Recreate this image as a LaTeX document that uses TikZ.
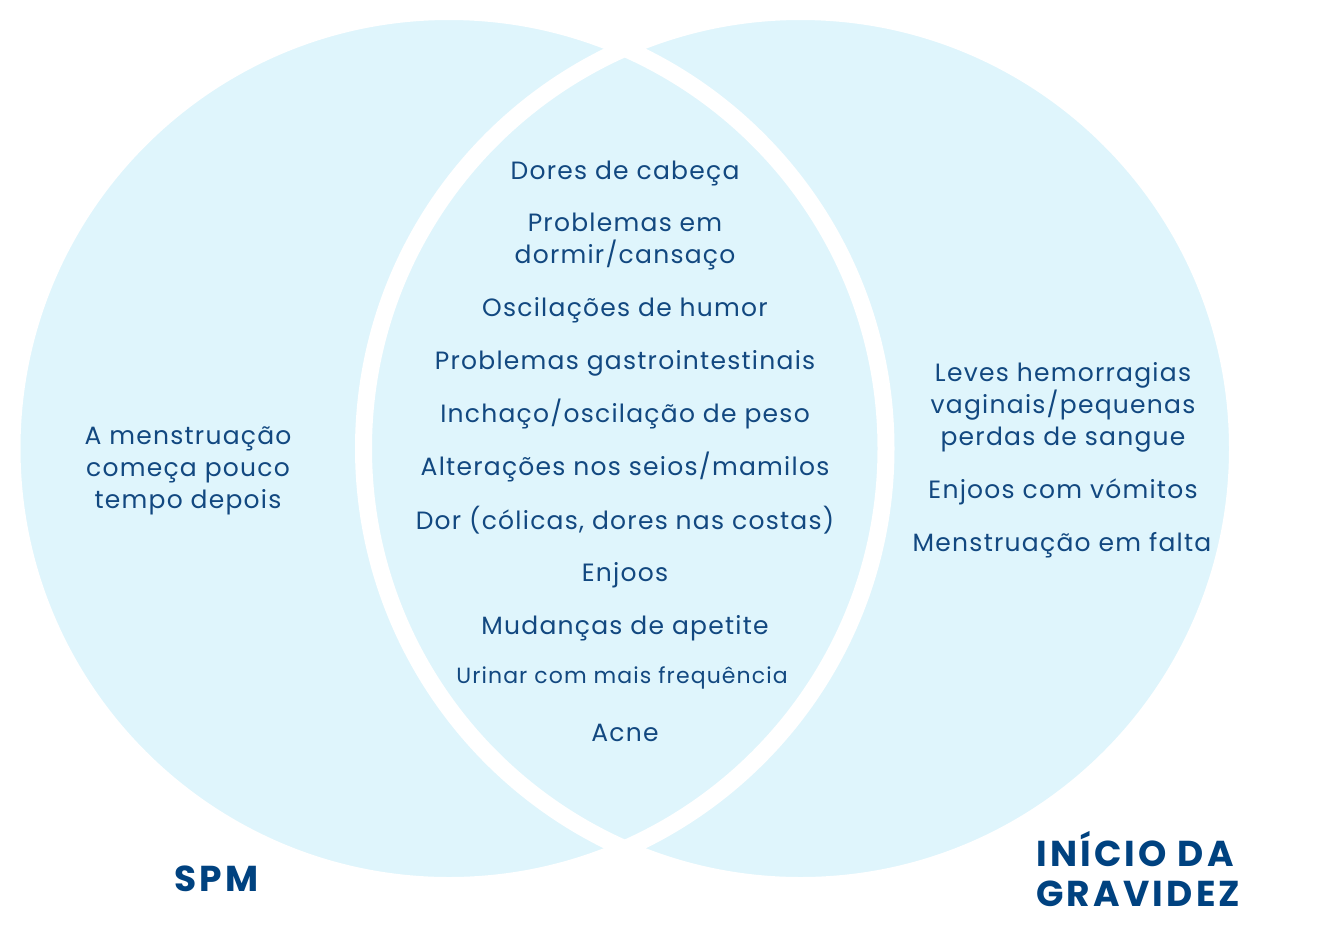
\documentclass[tikz,border=0pt]{standalone}
\usepackage{fontspec}
\setmainfont{Poppins}[LetterSpace=5]
\newfontfamily\ttlfont{Poppins}[LetterSpace=9]
\definecolor{fillblue}{RGB}{223,245,252}
\definecolor{txtblue}{RGB}{18,72,128}
\definecolor{ttlblue}{RGB}{0,66,128}
\begin{document}
\begin{tikzpicture}[x=1pt,y=-1pt,
  circ/.style={fill=fillblue},
  ring/.style={draw=white,line width=17pt},
  item/.style={text=txtblue,font=\fontsize{25}{32}\selectfont,align=center,inner sep=0pt,anchor=center},
  small/.style={text=txtblue,font=\fontsize{22}{26}\selectfont,align=center,inner sep=0pt,anchor=center},
  ttl/.style={text=ttlblue,font=\ttlfont\bfseries\fontsize{36}{40}\selectfont,align=left,inner sep=0pt}]
\useasboundingbox (0,0) rectangle (1338,935);
\fill[white] (0,0) rectangle (1338,935);
\path[circ] (449,448.5) circle[radius=437];
\path[circ] (800.5,448.5) circle[radius=437];
\draw[ring] (449,448.5) circle[radius=437];
\draw[ring] (800.5,448.5) circle[radius=437];
% center
\node[item] (c1) at (625,173) {Dores de cabeça};
\node[item] (c2) at (625,241) {Problemas em\\dormir/cansaço};
\node[item] (c3) at (625,310) {Oscilações de humor};
\node[item] (c4) at (625,363) {Problemas gastrointestinais};
\node[item] (c5) at (625,414) {Inchaço/oscilação de peso};
\node[item] (c6) at (625,467) {Alterações nos seios/mamilos};
\node[item] (c7) at (625,520) {Dor (cólicas, dores nas costas)};
\node[item] (c8) at (625,575) {Enjoos};
\node[item] (c9) at (625,628) {Mudanças de apetite};
\node[small] (c10) at (622,678) {Urinar com mais frequência};
\node[item] (c11) at (625,733) {Acne};
% left
\node[item] (l1) at (188,471) {A menstruação\\começa pouco\\tempo depois};
% right
\node[item] (r1) at (1063,407) {Leves hemorragias\\vaginais/pequenas\\perdas de sangue};
\node[item] (r2) at (1063,492) {Enjoos com vómitos};
\node[item] (r3) at (1062,545) {Menstruação em falta};
% titles
\node[ttl,anchor=west] (spm) at (174,879) {SPM};
\node[ttl,anchor=west] (gr) at (1036,869) {INÍCIO DA\\GRAVIDEZ};
\end{tikzpicture}
\end{document}
